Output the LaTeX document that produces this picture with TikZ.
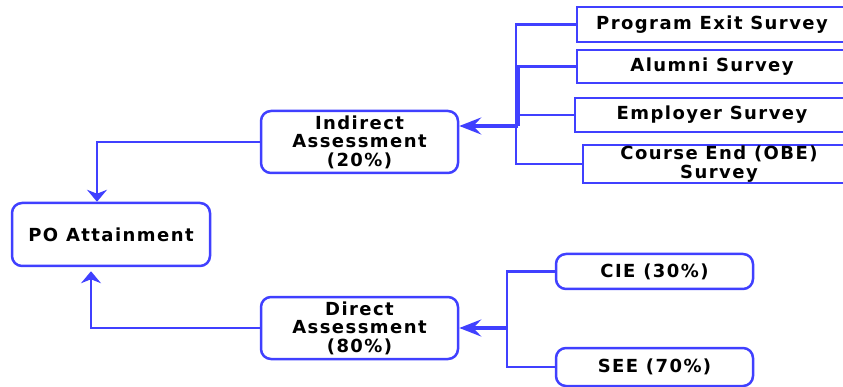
\documentclass[tikz,border=0pt]{standalone}
\usepackage{fontspec}
\setmainfont{DejaVu Sans}[LetterSpace=8]
\usetikzlibrary{arrows.meta}
\definecolor{lnc}{RGB}{64,64,255}
\begin{document}
\begin{tikzpicture}[x=1pt,y=-1pt,
  box/.style={draw=lnc, line width=2.5pt, rounded corners=10pt,
    font=\fontsize{18}{18.5}\selectfont\bfseries, align=center, inner sep=0pt},
  sbox/.style={box, rounded corners=0pt},
  conn/.style={draw=lnc, line width=2.5pt},
  thk/.style={draw=lnc, line width=4.5pt},
  arr/.style={conn, -{Stealth[length=12pt,width=20pt,inset=4pt]}},
  bigarr/.style={draw=lnc, line width=4pt, -{Stealth[length=22pt,width=17pt,inset=8pt]}}]
\useasboundingbox (0,0) rectangle (843,387);
\clip (0,0) rectangle (843,387);
\node[box, minimum width=198pt, minimum height=63pt] (po) at (111,234.5) {PO Attainment};
\node[box, minimum width=197pt, minimum height=62pt] (ind) at (359.5,142) {Indirect\\Assessment\\(20\%)};
\node[box, minimum width=197pt, minimum height=62pt] (dir) at (359.5,328) {Direct\\Assessment\\(80\%)};
\node[sbox, minimum width=270pt, minimum height=35pt] (pes) at (712,24.5) {Program Exit Survey};
\node[sbox, minimum width=270pt, minimum height=33pt] (al) at (712,66.5) {Alumni Survey};
\node[sbox, minimum width=274pt, minimum height=34pt] (emp) at (712,115) {Employer Survey};
\node[sbox, minimum width=272pt, minimum height=38pt] (ce) at (719,164) {Course End (OBE)\\Survey};
\node[box, minimum width=197pt, minimum height=35pt] (cie) at (654.5,271.5) {CIE (30\%)};
\node[box, minimum width=197pt, minimum height=38pt] (see) at (654.5,367) {SEE (70\%)};
\coordinate (busx) at (516,0);
\coordinate (ja) at (518,126);
\coordinate (jb) at (507,328);
\draw[arr] (ind.west) -| ([xshift=-14pt]po.north);
\draw[arr] (dir.west) -| ([xshift=-20pt,yshift=-4pt]po.south);
\draw[conn] (pes.west) -- (pes.west -| busx) -- (ce.west -| busx) -- (ce.west);
\draw[conn] (al.west) -- (al.west -| busx);
\draw[conn] (emp.west) -- (emp.west -| busx);
\draw[thk] (al.west -| ja) -- (ja);
\draw[bigarr] (ja) -- (ind.east |- ja);
\draw[conn] (cie.west) -| (jb) |- (see.west);
\draw[bigarr] (jb) -- (dir.east);
\end{tikzpicture}
\end{document}
